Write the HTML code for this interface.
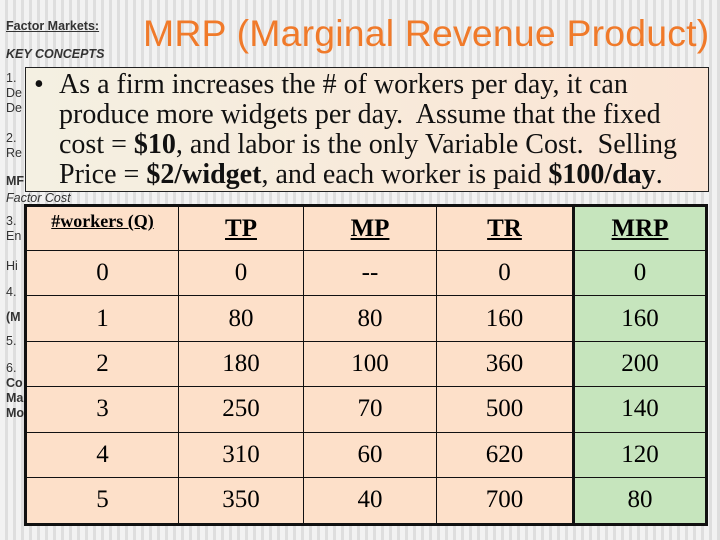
<!DOCTYPE html>
<html><head><meta charset="utf-8"><style>
body{margin:0;width:720px;height:540px;overflow:hidden;position:relative;font-family:"Liberation Sans",sans-serif;
background:repeating-linear-gradient(90deg,#f2f2f2 0 5px,#dedede 5px 8px);}
.side{position:absolute;left:6px;font-size:12.5px;color:#333;}
#title{position:absolute;left:143px;top:12px;font-size:37.4px;color:#f07a2a;white-space:nowrap;letter-spacing:0.2px;}
#callout{position:absolute;left:25px;top:67px;width:684px;height:125px;border:1px solid #222;
background:linear-gradient(90deg,#f4f0e2,#fbe4d3);font-family:"Liberation Serif",serif;font-size:28px;line-height:30px;color:#111;box-sizing:border-box;padding:2px 0 0 33px;white-space:nowrap;}
#callout .b{position:absolute;left:8px;top:2px;}
table{position:absolute;left:24px;top:204px;width:684px;height:322px;border-collapse:collapse;font-family:"Liberation Serif",serif;border:3px solid #111;}
td{border:1.5px solid #111;background:#fde0c9;text-align:center;font-size:25px;padding:0;}
td.m{background:#c6e5bd;border-left:3px solid #111;}
tr.h td{font-weight:bold;text-decoration:underline;font-size:25px;}
tr.h td.q{font-size:18px;vertical-align:top;padding-top:4px;}
</style></head><body>
<div class="side" style="top:19px;font-weight:bold;text-decoration:underline;">Factor Markets:</div>
<div class="side" style="top:47px;font-weight:bold;font-style:italic;">KEY CONCEPTS</div>
<div class="side" style="top:71px;line-height:15px;">1.<br>De<br>De</div>
<div class="side" style="top:131px;line-height:15px;">2.<br>Re</div>
<div class="side" style="top:174px;font-weight:bold;">MF</div>
<div class="side" style="top:191px;font-style:italic;">Factor Cost</div>
<div class="side" style="top:214px;line-height:15px;">3.<br>En</div>
<div class="side" style="top:259px;">Hi</div>
<div class="side" style="top:285px;">4.</div>
<div class="side" style="top:310px;font-weight:bold;">(M</div>
<div class="side" style="top:334px;">5.</div>
<div class="side" style="top:361px;line-height:15px;">6.<br><b>Co<br>Ma<br>Mo</b></div>
<div id="title">MRP (Marginal Revenue Product)</div>
<div id="callout"><span class="b">•</span>As a firm increases the # of workers per day, it can<br>produce more widgets per day.&nbsp; Assume that the fixed<br>cost = <b>$10</b>, and labor is the only Variable Cost.&nbsp; Selling<br>Price = <b>$2/widget</b>, and each worker is paid <b>$100/day</b>.</div>
<table>
<colgroup><col style="width:153px"><col style="width:125px"><col style="width:133px"><col style="width:137px"><col></colgroup>
<tr class="h" style="height:45px"><td class="q">#workers (Q)</td><td>TP</td><td>MP</td><td>TR</td><td class="m">MRP</td></tr>
<tr><td>0</td><td>0</td><td>--</td><td>0</td><td class="m">0</td></tr>
<tr><td>1</td><td>80</td><td>80</td><td>160</td><td class="m">160</td></tr>
<tr><td>2</td><td>180</td><td>100</td><td>360</td><td class="m">200</td></tr>
<tr><td>3</td><td>250</td><td>70</td><td>500</td><td class="m">140</td></tr>
<tr><td>4</td><td>310</td><td>60</td><td>620</td><td class="m">120</td></tr>
<tr><td>5</td><td>350</td><td>40</td><td>700</td><td class="m">80</td></tr>
</table>
</body></html>
